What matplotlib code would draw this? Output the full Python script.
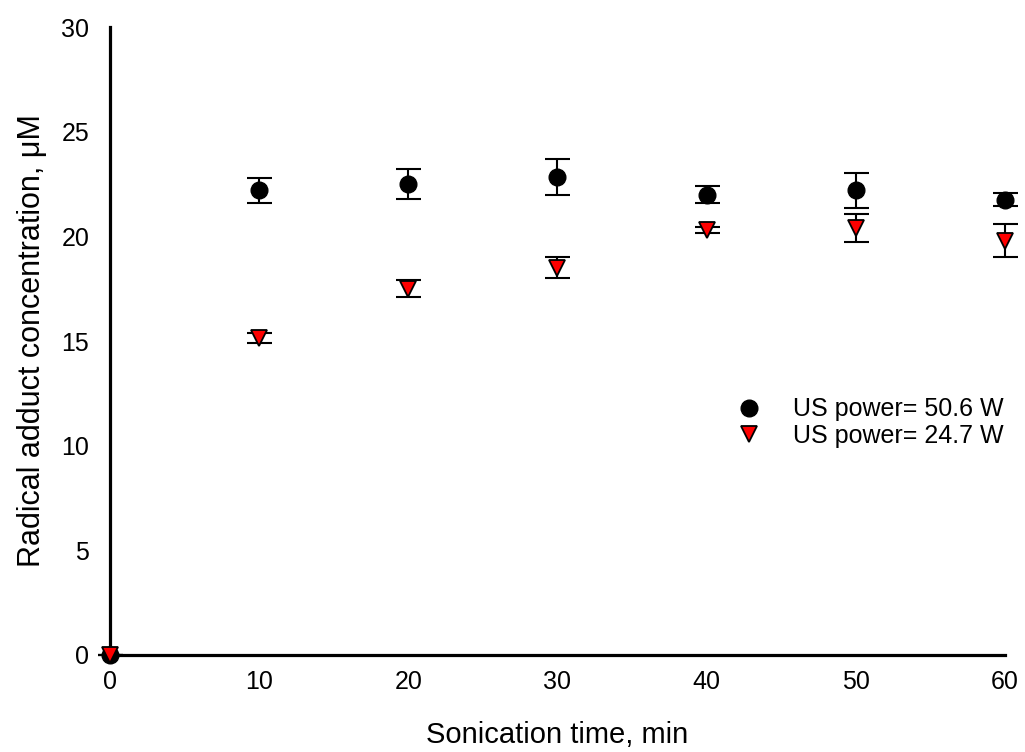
import matplotlib
matplotlib.use("Agg")
import matplotlib.pyplot as plt

plt.rcParams['font.family'] = ['Liberation Sans', 'DejaVu Sans']

time_min = [0, 10, 20, 30, 40, 50, 60]
conc_50w = [0.0, 22.2, 22.5, 22.85, 22.0, 22.2, 21.75]
err_50w = [0.0, 0.6, 0.7, 0.85, 0.4, 0.85, 0.3]
conc_25w = [0.0, 15.15, 17.5, 18.5, 20.3, 20.4, 19.8]
err_25w = [0.0, 0.25, 0.4, 0.5, 0.15, 0.65, 0.8]
label_50w = "US power= 50.6 W"
label_25w = "US power= 24.7 W"
xticks = [0, 10, 20, 30, 40, 50, 60]
yticks = [0, 5, 10, 15, 20, 25, 30]

fig = plt.figure(figsize=(10.25, 7.52), dpi=100)
ax = fig.add_axes([0.1073, 0.129, 0.8732, 0.835])

ax.errorbar(time_min, conc_50w, yerr=err_50w, fmt='none', ecolor='black',
            elinewidth=1.5, capsize=9, capthick=1.5, clip_on=False, zorder=2)
ax.errorbar(time_min, conc_25w, yerr=err_25w, fmt='none', ecolor='black',
            elinewidth=1.5, capsize=9, capthick=1.5, clip_on=False, zorder=2)
ax.plot(time_min, conc_50w, 'o', color='black', markersize=12, linestyle='none',
        label=label_50w, clip_on=False, zorder=3)
ax.plot(time_min, conc_25w, 'v', markerfacecolor='#ff0000', markeredgecolor='black',
        markeredgewidth=1.3, markersize=12, linestyle='none',
        label=label_25w, clip_on=False, zorder=4)

ax.set_xlim(0, 60)
ax.set_ylim(0, 30)
ax.set_xticks(xticks)
ax.set_yticks(yticks)
for s in ['top', 'right']:
    ax.spines[s].set_visible(False)
for s in ['left', 'bottom']:
    ax.spines[s].set_linewidth(2.3)
ax.tick_params(axis='both', direction='inout', length=6, width=1.2, color='white',
               labelsize=18, labelcolor='black')
ax.tick_params(axis='x', pad=8)
ax.tick_params(axis='y', pad=12)

ax.set_xlabel("Sonication time, min", fontsize=21, labelpad=19)
ax.set_ylabel("Radical adduct concentration, \u03bcM", fontsize=22, labelpad=10)

ax.legend(loc='center left', bbox_to_anchor=(0.697, 0.37), frameon=False,
          fontsize=18, handletextpad=1.15, labelspacing=0.1, handlelength=1.2,
          borderaxespad=0, borderpad=0)

fig.savefig("out.png", dpi=100)
